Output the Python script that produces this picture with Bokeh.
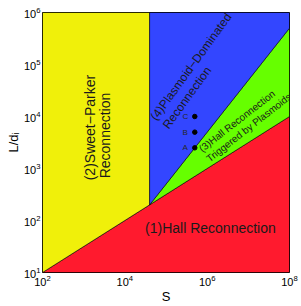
import numpy as np
from bokeh.plotting import figure
from bokeh.models import Range1d, FixedTicker
from bokeh.core.properties import value
from bokeh.embed import file_html
from bokeh.resources import INLINE

# axis ranges and ticks
S_min, S_max = 1e2, 1e8
L_min, L_max = 1e1, 1e6
x_ticks = [1e2, 1e4, 1e6, 1e8]
y_ticks = [1e1, 1e2, 1e3, 1e4, 1e5, 1e6]

# region vertices (S, L/d_i); S_c = 4e4, L/d_i = 200 at S_c
hall_S = [1e2, 1e8, 1e8]
hall_L = [1e1, 1e4, 1e1]
sp_S = [1e2, 4e4, 4e4, 1e2]
sp_L = [1e1, 2e2, 1e6, 1e6]
trig_S = [4e4, 1e8, 1e8]
trig_L = [2e2, 5e5, 1e4]
plas_S = [4e4, 4e4, 1e8, 1e8]
plas_L = [2e2, 1e6, 1e6, 5e5]

# simulation points
pt_S = [5e5, 5e5, 5e5]
pt_L = [2.5e3, 5e3, 1e4]
pt_names = ["A", "B", "C"]

FONT = value("Liberation Sans")

p = figure(width=300, height=306, x_axis_type="log", y_axis_type="log",
           x_range=Range1d(S_min, S_max), y_range=Range1d(L_min, L_max),
           output_backend="svg", toolbar_location=None,
           min_border_left=42, min_border_right=11, min_border_top=12, min_border_bottom=33)
p.background_fill_color = "white"
p.border_fill_color = "white"
p.outline_line_color = "black"
p.outline_line_width = 1
p.grid.visible = False

lw = 0.6
p.patch(hall_S, hall_L, fill_color="#ff1a2e", line_color="black", line_width=lw)
p.patch(sp_S, sp_L, fill_color="#f0f00a", line_color="black", line_width=lw)
p.patch(trig_S, trig_L, fill_color="#66ff00", line_color="black", line_width=lw)
p.patch(plas_S, plas_L, fill_color="#3346ff", line_color="black", line_width=lw)

p.scatter(pt_S, pt_L, size=4.5, color="black")
p.text(pt_S, pt_L, text=pt_names, x_offset=-9.5, text_align="center", text_baseline="middle",
       text_font=FONT, text_font_size=value("8px"), text_color="#262626")

# region labels
p.text([1.2e6], [72.8], text=["(1)Hall Reconnection"], text_align="center", text_baseline="middle",
       text_font=FONT, text_font_size=value("14px"), text_color="#1a1a1a")
p.text([1441, 3260], [6124, 4306], text=["(2)Sweet\u2212Parker", "Reconnection"], angle=np.pi/2,
       text_align="center", text_baseline="middle",
       text_font=FONT, text_font_size=value("14px"), text_color="#1a1a1a")
a3 = np.deg2rad(38)
p.text([5.3e6, 1.026e7], [8166, 6124], text=["(3)Hall Reconnection", "Triggered by Plasmoids"], angle=a3,
       text_align="center", text_baseline="middle",
       text_font=FONT, text_font_size=value("10px"), text_color="#1a1a1a")
a4 = np.deg2rad(54)
p.text([4.05e5, 3.236e5], [9.03e4, 2.30e4], text=["(4)Plasmoid\u2212Dominated", "Reconnection"], angle=a4,
       text_align="center", text_baseline="middle",
       text_font=FONT, text_font_size=value("12px"), text_color="#1a1a1a")

for ax in (p.xaxis[0], p.yaxis[0]):
    ax.major_tick_in = 0
    ax.major_tick_out = 0
    ax.minor_tick_in = 0
    ax.minor_tick_out = 0
    ax.axis_line_color = None
    ax.major_label_text_font = "Liberation Sans"
    ax.major_label_text_font_size = "11px"
    ax.major_label_text_color = "black"
    ax.axis_label_text_font = "Liberation Sans"
    ax.axis_label_text_font_size = "13px"
    ax.axis_label_text_font_style = "normal"
    ax.axis_label_text_color = "black"

p.xaxis[0].ticker = FixedTicker(ticks=x_ticks)
p.yaxis[0].ticker = FixedTicker(ticks=y_ticks)
p.xaxis[0].axis_label = "S"
p.yaxis[0].axis_label = "L/d\u1d62"
p.xaxis[0].major_label_standoff = 2
p.yaxis[0].major_label_standoff = 2
p.xaxis[0].axis_label_standoff = 0
p.yaxis[0].axis_label_standoff = 0

open("out.html", "w").write(file_html(p, INLINE))
